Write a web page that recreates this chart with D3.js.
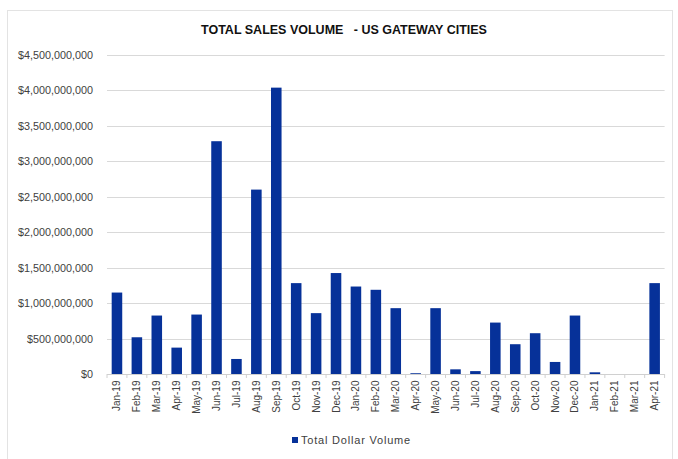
<!DOCTYPE html>
<html>
<head>
<meta charset="utf-8">
<script src="https://cdn.jsdelivr.net/npm/d3@7"></script>
<style>
  html, body { margin: 0; padding: 0; background: #fff; }
  svg { display: block; }
  text { font-family: "Liberation Sans", Arial, sans-serif; }
</style>
</head>
<body>
<div id="chart"></div>
<script>
// Total dollar volume per month
const months = ['Jan-19','Feb-19','Mar-19','Apr-19','May-19','Jun-19','Jul-19','Aug-19','Sep-19','Oct-19',
  'Nov-19','Dec-19','Jan-20','Feb-20','Mar-20','Apr-20','May-20','Jun-20','Jul-20','Aug-20',
  'Sep-20','Oct-20','Nov-20','Dec-20','Jan-21','Feb-21','Mar-21','Apr-21'];
const volume = [1152e6, 522e6, 828e6, 376e6, 842e6, 3285e6, 216e6, 2603e6, 4040e6, 1285e6,
  862e6, 1427e6, 1237e6, 1191e6, 932e6, 15e6, 932e6, 70e6, 45e6, 729e6,
  424e6, 579e6, 174e6, 828e6, 28e6, 0, 0, 1285e6];
const yTicks = [0, 5e8, 1e9, 1.5e9, 2e9, 2.5e9, 3e9, 3.5e9, 4e9, 4.5e9];
const title = 'TOTAL SALES VOLUME   - US GATEWAY CITIES';
const seriesName = 'Total Dollar Volume';

(function () {
  'use strict';
  const W = 678, H = 459;
  const BAR = '#063199';
  const svg = d3.select('#chart').append('svg').attr('width', W).attr('height', H);

  // outer chart frame
  svg.append('rect').attr('x', 7.5).attr('y', 10.5).attr('width', 665).attr('height', 460)
    .attr('fill', '#fff').attr('stroke', '#e3e3e3');

  const x = d3.scaleBand().domain(months).range([107, 664.6]).paddingInner(0.47).paddingOuter(0.235);
  const y = d3.scaleLinear().domain([0, 4.5e9]).range([374.3, 55]);
  const fmt = d => '$' + d3.format(',')(d);

  // gridlines
  svg.append('g').selectAll('line').data(yTicks.filter(d => d > 0)).join('line')
    .attr('x1', 107).attr('x2', 664.6)
    .attr('y1', d => Math.round(y(d)) + 0.5).attr('y2', d => Math.round(y(d)) + 0.5)
    .attr('stroke', '#d9d9d9').attr('stroke-width', 1);

  // y labels
  const yAxis = svg.append('g').attr('transform', 'translate(93,0)')
    .call(d3.axisLeft(y).tickValues(yTicks).tickFormat(fmt).tickSize(0).tickPadding(0));
  yAxis.select('.domain').remove();
  yAxis.selectAll('text').style('font-size', '10.8px').attr('fill', '#404040');

  // bars
  svg.append('g').selectAll('rect').data(months).join('rect')
    .attr('x', d => x(d)).attr('width', x.bandwidth())
    .attr('y', (d, i) => y(volume[i])).attr('height', (d, i) => y(0) - y(volume[i]))
    .attr('fill', BAR);

  // x axis
  const xAxis = svg.append('g').attr('transform', `translate(0,${Math.round(y(0)) + 0.5})`)
    .call(d3.axisBottom(x).tickSize(0).tickPadding(0));
  xAxis.select('.domain').attr('stroke', '#d0d0d0').attr('d', 'M107,0H664.6');
  xAxis.selectAll('text')
    .style('font-size', '10px').attr('fill', '#404040')
    .attr('transform', 'rotate(-90)').attr('text-anchor', 'end')
    .attr('x', -6).attr('y', 0).attr('dy', '0.35em');
  // category separators
  const step = x.step();
  svg.append('g').selectAll('line').data(d3.range(months.length + 1)).join('line')
    .attr('x1', i => 107 + i * step).attr('x2', i => 107 + i * step)
    .attr('y1', Math.round(y(0))).attr('y2', Math.round(y(0)) + 4)
    .attr('stroke', '#d0d0d0');

  // title
  svg.append('text').attr('x', 344).attr('y', 34).attr('text-anchor', 'middle')
    .style('font-size', '12.5px').style('font-weight', 'bold').attr('fill', '#111')
    .style('white-space', 'pre').text(title);

  // legend
  const lg = svg.append('g').attr('transform', 'translate(292,437)');
  lg.append('rect').attr('width', 6).attr('height', 6).attr('fill', BAR);
  lg.append('text').attr('x', 9).attr('y', 6.5).style('font-size', '11px').attr('fill', '#404040')
    .style('letter-spacing', '0.8px').text(seriesName);
})();
</script>
</body>
</html>
